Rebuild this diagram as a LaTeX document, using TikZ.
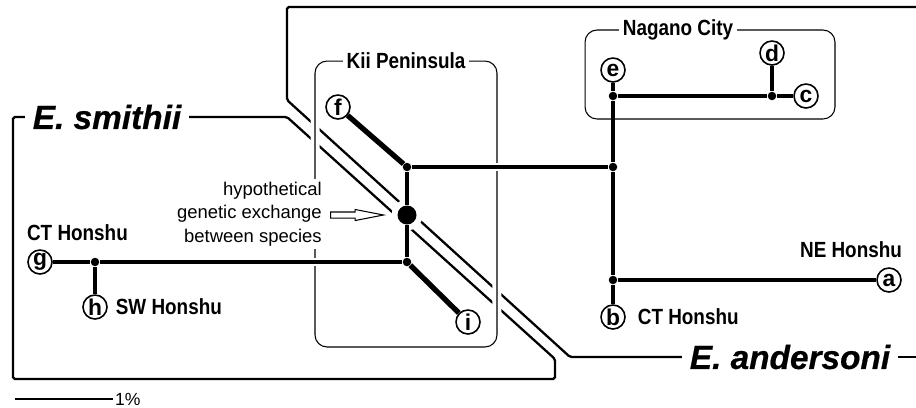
\documentclass[tikz,border=0pt]{standalone}
\usepackage{fontspec}
\setmainfont{Liberation Sans}
\newfontfamily\condfont[FakeStretch=0.86]{Liberation Sans}
\newfontfamily\heavyfont[FakeBold=0.6]{Liberation Sans}
\usetikzlibrary{shapes,positioning}

\begin{document}
\begin{tikzpicture}[x=0.02cm, y=-0.02cm,
  outline/.style={line width=1.3pt, rounded corners=1pt},
  region/.style={rectangle, draw, rounded corners=0.24cm, line width=0.6pt, preaction={draw=white, line width=0.18cm}},
  regionlabel/.style={fill=white, inner xsep=2pt, inner ysep=1pt, font=\condfont\bfseries\fontsize{12.5}{14}\selectfont},
  species/.style={inner xsep=0.15cm, font=\heavyfont\bfseries\itshape\fontsize{19}{22}\selectfont},
  place/.style={inner sep=1pt, font=\condfont\bfseries\fontsize{12.5}{14}\selectfont},
  leaf/.style={circle, draw, fill=white, line width=0.9pt, inner sep=0pt, minimum size=0.48cm, font=\bfseries\fontsize{13}{13}\selectfont},
  junction/.style={circle, fill, inner sep=0pt, minimum size=0.17cm},
  exchange/.style={circle, fill, inner sep=0pt, minimum size=0.38cm, preaction={draw=white, line width=0.24cm}},
  branch/.style={line width=2.1pt},
  heavybranch/.style={line width=3pt},
  halo/.style={preaction={draw=white, line width=5pt}},
  hollow/.style={single arrow, draw, fill=white, line width=0.6pt, inner xsep=0pt, inner ysep=0.05cm, single arrow head extend=0.05cm, single arrow tip angle=22, minimum height=1.06cm}]
\useasboundingbox (0,0) rectangle (916,407);

% species outlines
\node[species] (smithii) at (107,117) {E. smithii};
\node[species] (andersoni) at (790,357) {E. andersoni};
\coordinate (topend) at (930,7);
\coordinate (andend) at (930,357);
\draw[outline] (smithii.east) -- (287,117) -- (555,359) -- (555,379) -- (13,379) -- (13,117) -- (smithii.west);
\draw[outline] (topend) -- (287,7) -- (287,100) -- (570,357) -- (andersoni.west);
\draw[outline] (andersoni.east) -- (andend);

% sampling regions
\node[region, minimum width=3.64cm, minimum height=5.72cm] (kii) at (406,204) {};
\node[regionlabel] (kiilabel) at (kii.north) {Kii Peninsula};
\node[region, minimum width=5cm, minimum height=1.78cm] (nagano) at (710,74.5) {};
\node[regionlabel] (naganolabel) at ([xshift=-0.64cm]nagano.north) {Nagano City};

% hybridisation
\node[fill=white, align=right, inner sep=0.06cm, anchor=east, font=\fontsize{10.5}{13.3}\selectfont] (hypo) at (325,214) {hypothetical\\genetic exchange\\between species};
\node[hollow, anchor=tail] (pointer) at (330,215) {};
\node[exchange] (swap) at (407,215) {};

% internal nodes
\node[junction] (kiitop) at (407,167) {};
\node[junction] (kiibot) at (407,262) {};
\node[junction] (westj) at (95,262) {};
\node[junction] (midj) at (613,167) {};
\node[junction] (cityj) at (613,96) {};
\node[junction] (eastj) at (613,280) {};
\node[junction] (dj) at (772,96) {};

% haplotypes
\node[leaf] (a) at (889,280) {a};
\node[leaf] (b) at (613,317) {b};
\node[leaf] (c) at (806,96) {c};
\node[leaf] (d) at (772,53) {d};
\node[leaf] (e) at (613,70) {e};
\node[leaf] (f) at (338,107) {f};
\node[leaf] (g) at (40,262) {g};
\node[leaf] (h) at (95,307) {h};
\node[leaf] (i) at (468,322) {i};

% localities
\node[place, anchor=south west] (ctwest) at (25,243) {CT Honshu};
\node[place, right=0.12cm of h] (swest) {SW Honshu};
\node[place, right=0.2cm of b] (ctcentral) {CT Honshu};
\node[place, anchor=south east] (neast) at (904,260) {NE Honshu};

% branches
\draw[branch, halo] (g) -- (westj) -- (kiibot);
\draw[branch, halo] (kiitop) -- (midj);
\draw[branch] (westj) -- (h);
\draw[branch] (kiitop) -- (swap) -- (kiibot);
\draw[heavybranch] (f) -- (kiitop);
\draw[heavybranch] (kiibot) -- (i);
\draw[branch] (e) -- (cityj) -- (midj) -- (eastj) -- (b);
\draw[branch] (cityj) -- (dj) -- (c);
\draw[branch] (dj) -- (d);
\draw[branch] (eastj) -- (a);

% scale bar
\node[anchor=west, inner sep=1pt, font=\fontsize{10}{12}\selectfont] (onepct) at (113,399) {1\%};
\coordinate (barstart) at (15,399);
\draw[line width=1.3pt] (barstart) -- (onepct.west);
\end{tikzpicture}
\end{document}
